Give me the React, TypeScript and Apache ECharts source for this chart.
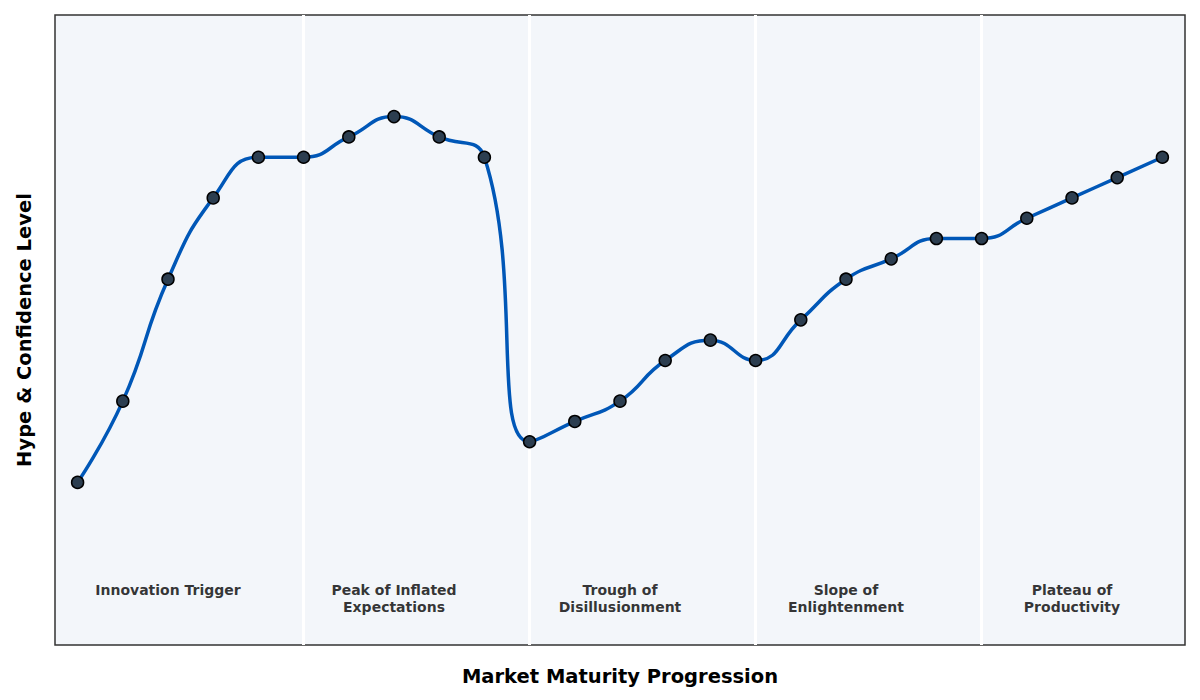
import { useEffect, useRef } from 'react';
import * as echarts from 'echarts';

// stage index along the x axis (0..24) and hype level
const stages = Array.from({ length: 25 }, (_, i) => i);
const hype = [10, 30, 60, 80, 90, 90, 95, 100, 95, 90, 20, 25, 30, 40, 45, 40, 50, 60, 65, 70, 70, 75, 80, 85, 90];

const phaseBounds = [5, 10, 15, 20];
const phaseCenters = [2, 7, 12, 17, 22];
const phaseNames = [
  'Innovation Trigger',
  'Peak of Inflated\nExpectations',
  'Trough of\nDisillusionment',
  'Slope of\nEnlightenment',
  'Plateau of\nProductivity'
];
const phaseLabelLevel = -14.5;

const FONT = '"DejaVu Sans", sans-serif';

function buildOption(): echarts.EChartsOption {
  return {
    animation: false,
    grid: {
      left: 55,
      right: 15,
      top: 15,
      bottom: 55,
      show: true,
      backgroundColor: '#f3f6fa',
      borderColor: '#333333',
      borderWidth: 1.5
    },
    xAxis: {
      type: 'value',
      min: -0.5,
      max: 24.5,
      axisLabel: { show: false },
      axisTick: { show: false },
      axisLine: { show: false },
      splitLine: { show: false },
      name: 'Market Maturity Progression',
      nameLocation: 'middle',
      nameGap: 21,
      nameTextStyle: { fontFamily: FONT, fontWeight: 'bold', fontSize: 19.5, color: '#000' }
    },
    yAxis: {
      type: 'value',
      min: -30,
      max: 125,
      axisLabel: { show: false },
      axisTick: { show: false },
      axisLine: { show: false },
      splitLine: { show: false },
      name: 'Hype & Confidence Level',
      nameLocation: 'middle',
      nameGap: 21,
      nameTextStyle: { fontFamily: FONT, fontWeight: 'bold', fontSize: 19.5, color: '#000' }
    },
    series: [
      {
        type: 'line',
        data: [],
        z: 1,
        silent: true,
        markLine: {
          silent: true,
          z: 1,
          symbol: 'none',
          label: { show: false },
          lineStyle: { color: '#ffffff', width: 3, type: 'solid', opacity: 1 },
          data: phaseBounds.map((x) => ({ xAxis: x }))
        }
      },
      {
        type: 'scatter',
        z: 2,
        silent: true,
        symbolSize: 0,
        data: phaseCenters.map((x, i) => [x, phaseLabelLevel, phaseNames[i]]),
        label: {
          show: true,
          position: 'inside',
          align: 'center',
          verticalAlign: 'top',
          formatter: (p: any) => p.data[2],
          fontFamily: FONT,
          fontWeight: 'bold',
          fontSize: 14,
          lineHeight: 16.5,
          color: '#000000',
          textBorderWidth: 0
        }
      },
      {
        type: 'line',
        z: 10,
        data: stages.map((s, i) => [s, hype[i]]),
        smooth: 0.5,
        lineStyle: { color: '#0057b7', width: 3.5 },
        symbol: 'circle',
        symbolSize: 12,
        itemStyle: { color: '#2c3e50', borderColor: '#000000', borderWidth: 1.5 }
      }
    ]
  };
}

export default function App() {
  const ref = useRef<HTMLDivElement | null>(null);

  useEffect(() => {
    document.body.style.margin = '0';
    if (!ref.current) return undefined;
    const chart = echarts.init(ref.current, null, { renderer: 'svg' });
    chart.setOption(buildOption());
    return () => chart.dispose();
  }, []);

  return <div ref={ref} style={{ width: 1200, height: 700 }} />;
}
